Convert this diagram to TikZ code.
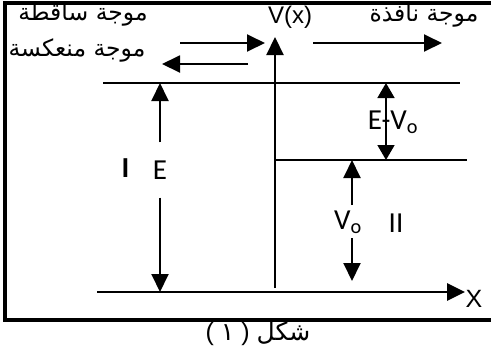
\documentclass[tikz,border=0pt]{standalone}
\usepackage{fontspec}
\setmainfont{Liberation Sans}
\newfontfamily\arabicfont[Script=Arabic]{DejaVu Sans}
\newfontfamily\calfont{Carlito}
\usetikzlibrary{arrows.meta}
\TeXXeTstate=1

\begin{document}
\begin{tikzpicture}[x=1pt,y=-1pt,
  lvl/.style={line width=2.6pt},
  arr/.style={line width=1.9pt,-{Triangle[length=18pt,width=17pt]}},
  dblarr/.style={line width=1.6pt,{Triangle[length=15pt,width=17pt]}-{Triangle[length=15pt,width=17pt]}},
  lbl/.style={font=\calfont\fontsize{29}{31}\selectfont,inner sep=0pt},
  arab/.style={font=\arabicfont\fontsize{23.5}{26}\selectfont,inner sep=0pt}]
\useasboundingbox (0,0) rectangle (491,349);
% frame
\draw[line width=3.8pt] (491,3) -- (5,3) -- (5,320) -- (491,320);
% wave labels
\node[arab] (inc) at (83,14) {\beginR موجة ساقطة\endR};
\node[arab] (refl) at (77,50) {\beginR موجة منعكسة\endR};
\node[arab] (trans) at (424,15) {\beginR موجة نافذة\endR};
\node[font=\fontsize{24}{26}\selectfont,inner sep=0pt] (vx) at (290,17) {V(x)};
% wave arrows
\coordinate (incA) at (180,43);
\coordinate (incB) at (265,43);
\coordinate (refA) at (248,64);
\coordinate (refB) at (162,64);
\coordinate (trA) at (313,43);
\coordinate (trB) at (442,43);
\draw[arr] (incA) -- (incB);
\draw[arr] (refA) -- (refB);
\draw[arr] (trA) -- (trB);
% levels and axes
\coordinate (eL) at (103,83);
\coordinate (eR) at (460,83);
\coordinate (vL) at (276,160);
\coordinate (vR) at (467,160);
\coordinate (xL) at (97,292);
\coordinate (xR) at (465,292);
\coordinate (vB) at (275,288);
\coordinate (vT) at (275,37);
\draw[lvl] (eL) -- (eR);
\draw[lvl] (vL) -- (vR);
\draw[arr,line width=2.8pt] (xL) -- (xR);
\draw[arr,line width=2.2pt] (vB) -- (vT);
\node[font=\fontsize{25}{27}\selectfont,inner sep=0pt] (xlab) at (474,299) {X};
% region I
\node[lbl,font=\calfont\bfseries\fontsize{29}{31}\selectfont] (regI) at (125.5,168) {I};
\node[lbl,minimum height=55pt] (lE) at (160,170) {E};
\draw[arr] (lE.north) -- (lE |- eL);
\draw[arr] (lE.south) -- (lE |- xL);
% region II
\coordinate (evT) at (386,83);
\coordinate (evB) at (386,160);
\draw[dblarr] (evT) -- (evB);
\node[lbl] (lEV) at (393,122) {E-V\textsubscript{o}};
\node[lbl] (lV) at (348,222) {V\textsubscript{o}};
\coordinate (v0T) at (352,160);
\coordinate (v0a) at (352,205);
\coordinate (v0b) at (352,238);
\coordinate (v0B) at (352,281);
\draw[arr] (v0a) -- (v0T);
\draw[arr] (v0b) -- (v0B);
\node[lbl] (regII) at (396,223) {II};
% caption
\node[font=\fontsize{25}{27}\selectfont,inner sep=0pt] (cap) at (258,334) {( {\arabicfont ١} ) {\arabicfont\beginR شكل\endR}};
\end{tikzpicture}
\end{document}
